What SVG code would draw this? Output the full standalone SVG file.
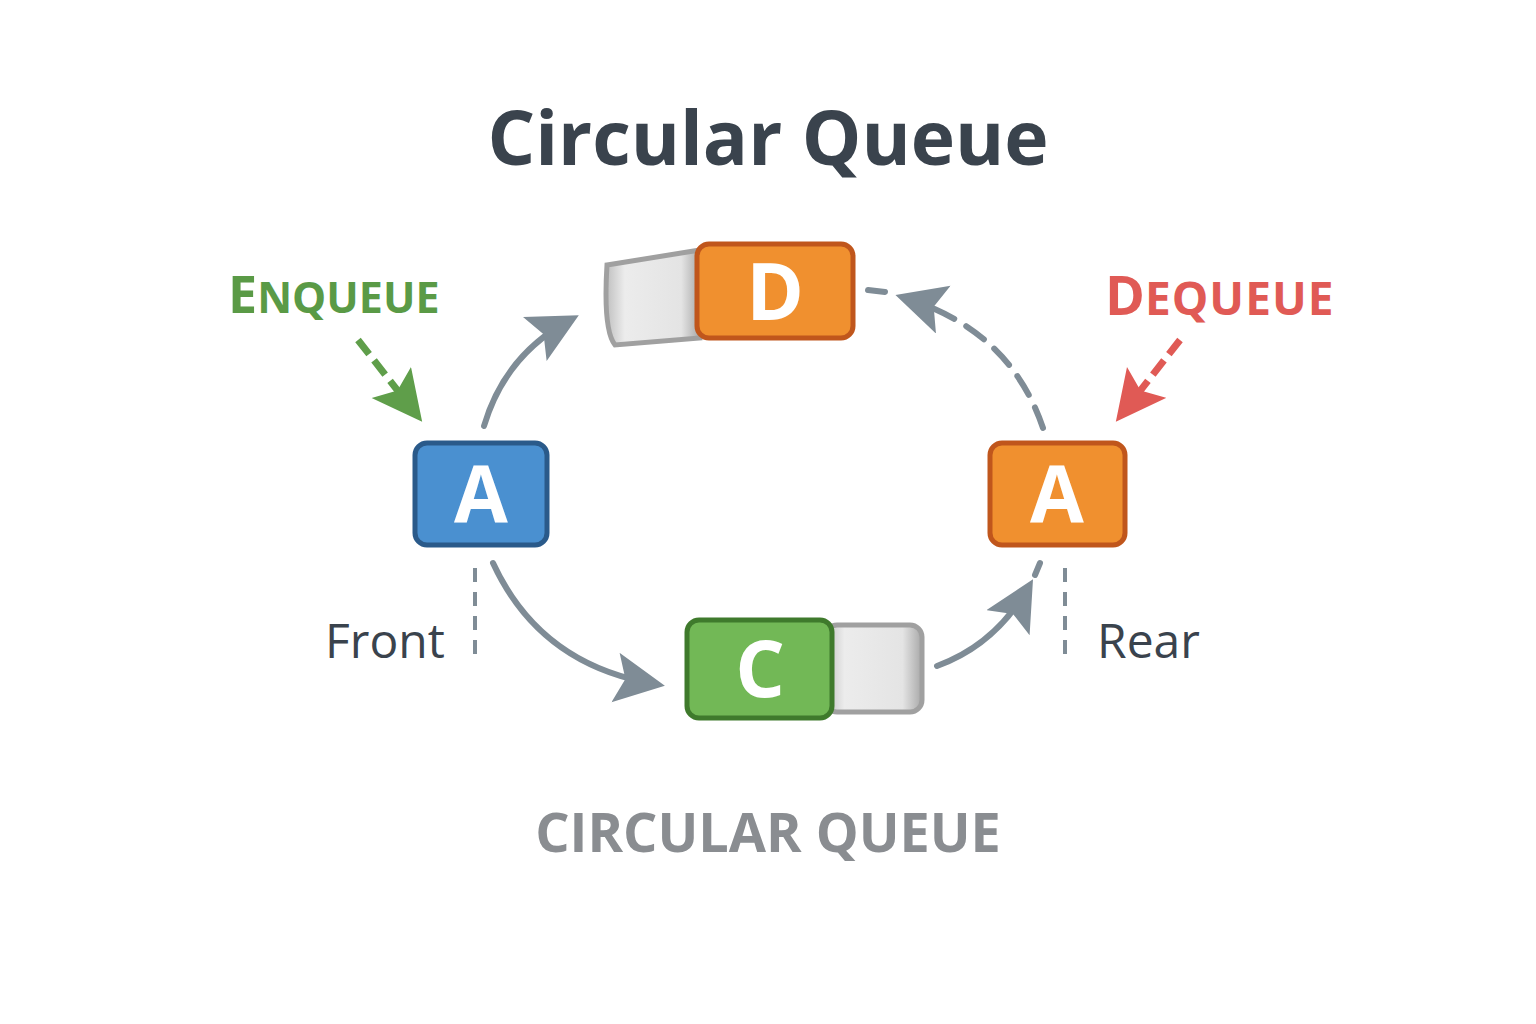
<svg xmlns="http://www.w3.org/2000/svg" width="1536" height="1024" viewBox="0 0 1536 1024">
<style>
.t{font-family:"Open Sans","Noto Sans",sans-serif;font-weight:bold}
.l{font-family:"Open Sans","Noto Sans",sans-serif;font-weight:bold;fill:#fff;font-size:78px;text-anchor:middle}
.c{fill:none;stroke:#7f8c96;stroke-width:6;stroke-linecap:round}
.box{stroke-width:5}
</style>
<defs>
<marker id="ag" markerUnits="userSpaceOnUse" markerWidth="60" markerHeight="60" refX="40" refY="25" orient="auto"><path d="M0,0 L50,25 L0,50 L10,25 Z" fill="#7f8c96"/></marker>
<marker id="agr" markerUnits="userSpaceOnUse" markerWidth="60" markerHeight="60" refX="40" refY="25" orient="auto"><path d="M0,0 L50,25 L0,50 L10,25 Z" fill="#5f9e4a"/></marker>
<marker id="ar" markerUnits="userSpaceOnUse" markerWidth="60" markerHeight="60" refX="40" refY="25" orient="auto"><path d="M0,0 L50,25 L0,50 L10,25 Z" fill="#e05a55"/></marker>
<linearGradient id="gry" x1="0" x2="1"><stop offset="0" stop-color="#bfbfbf"/><stop offset="0.2" stop-color="#ececec"/><stop offset="0.8" stop-color="#e4e4e4"/><stop offset="1" stop-color="#a8a8a8"/></linearGradient>
</defs>
<rect width="1536" height="1024" fill="#fff"/>
<text class="t" x="768" y="165" font-size="75" fill="#3a434d" text-anchor="middle">Circular Queue</text>
<text class="t" x="228" y="313" font-size="52" fill="#5a9a46">E<tspan font-size="43">NQUEUE</tspan></text>
<text class="t" x="1105" y="315" font-size="54" fill="#e05a55">D<tspan font-size="46" letter-spacing="1">EQUEUE</tspan></text>
<g id="connectors">
<path class="c" d="M484,426 Q505,355 570,320" marker-end="url(#ag)"/>
<path class="c" d="M1043,428 Q1010,330 905,298" stroke-dasharray="22,14" marker-end="url(#ag)"/>
<path class="c" d="M868,290 L885,292"/>
<path class="c" d="M493,563 Q540,665 655,684" marker-end="url(#ag)"/>
<path class="c" d="M937,666 Q995,645 1028,588" marker-end="url(#ag)"/>
<path class="c" d="M1035,575 L1040,563"/>
<path d="M358,340 L416,414" stroke="#5f9e4a" stroke-width="7" stroke-dasharray="18,8" fill="none" marker-end="url(#agr)"/>
<path d="M1180,340 L1122,414" stroke="#e05a55" stroke-width="7" stroke-dasharray="18,8" fill="none" marker-end="url(#ar)"/>
<path d="M475,568 V660 M1065,568 V660" stroke="#7f8c96" stroke-width="4" stroke-dasharray="14,10"/>
</g>
<g id="front"><text x="325" y="658" font-family="Open Sans, sans-serif" font-size="48" fill="#3a434d">Front</text></g>
<g id="rear"><text x="1097" y="658" font-family="Open Sans, sans-serif" font-size="48" fill="#3a434d">Rear</text></g>
<g id="nodeA1"><rect class="box" x="415" y="443" width="132" height="102" rx="12" fill="#4a90d0" stroke="#2a5a8a"/><text class="l" x="481" y="522">A</text></g>
<g id="nodeD"><path d="M607,265 L700,250 L700,338 L615,345 Q603,330 607,265 Z" fill="url(#gry)" stroke="#a0a0a0" stroke-width="5"/><rect class="box" x="697" y="244" width="156" height="94" rx="12" fill="#f0902f" stroke="#c0561c"/><text class="l" x="775" y="320">D</text></g>
<g id="nodeA2"><rect class="box" x="990" y="443" width="135" height="102" rx="12" fill="#f0902f" stroke="#c0561c"/><text class="l" x="1057" y="522">A</text></g>
<g id="nodeC"><rect x="825" y="625" width="97" height="87" rx="12" fill="url(#gry)" stroke="#a0a0a0" stroke-width="5"/><rect class="box" x="687" y="620" width="145" height="98" rx="12" fill="#72b856" stroke="#3f7a2c"/><text class="l" x="760" y="697">C</text></g>
<text class="t" x="768" y="852" font-size="54" fill="#8a8d91" text-anchor="middle">CIRCULAR QUEUE</text>
</svg>
